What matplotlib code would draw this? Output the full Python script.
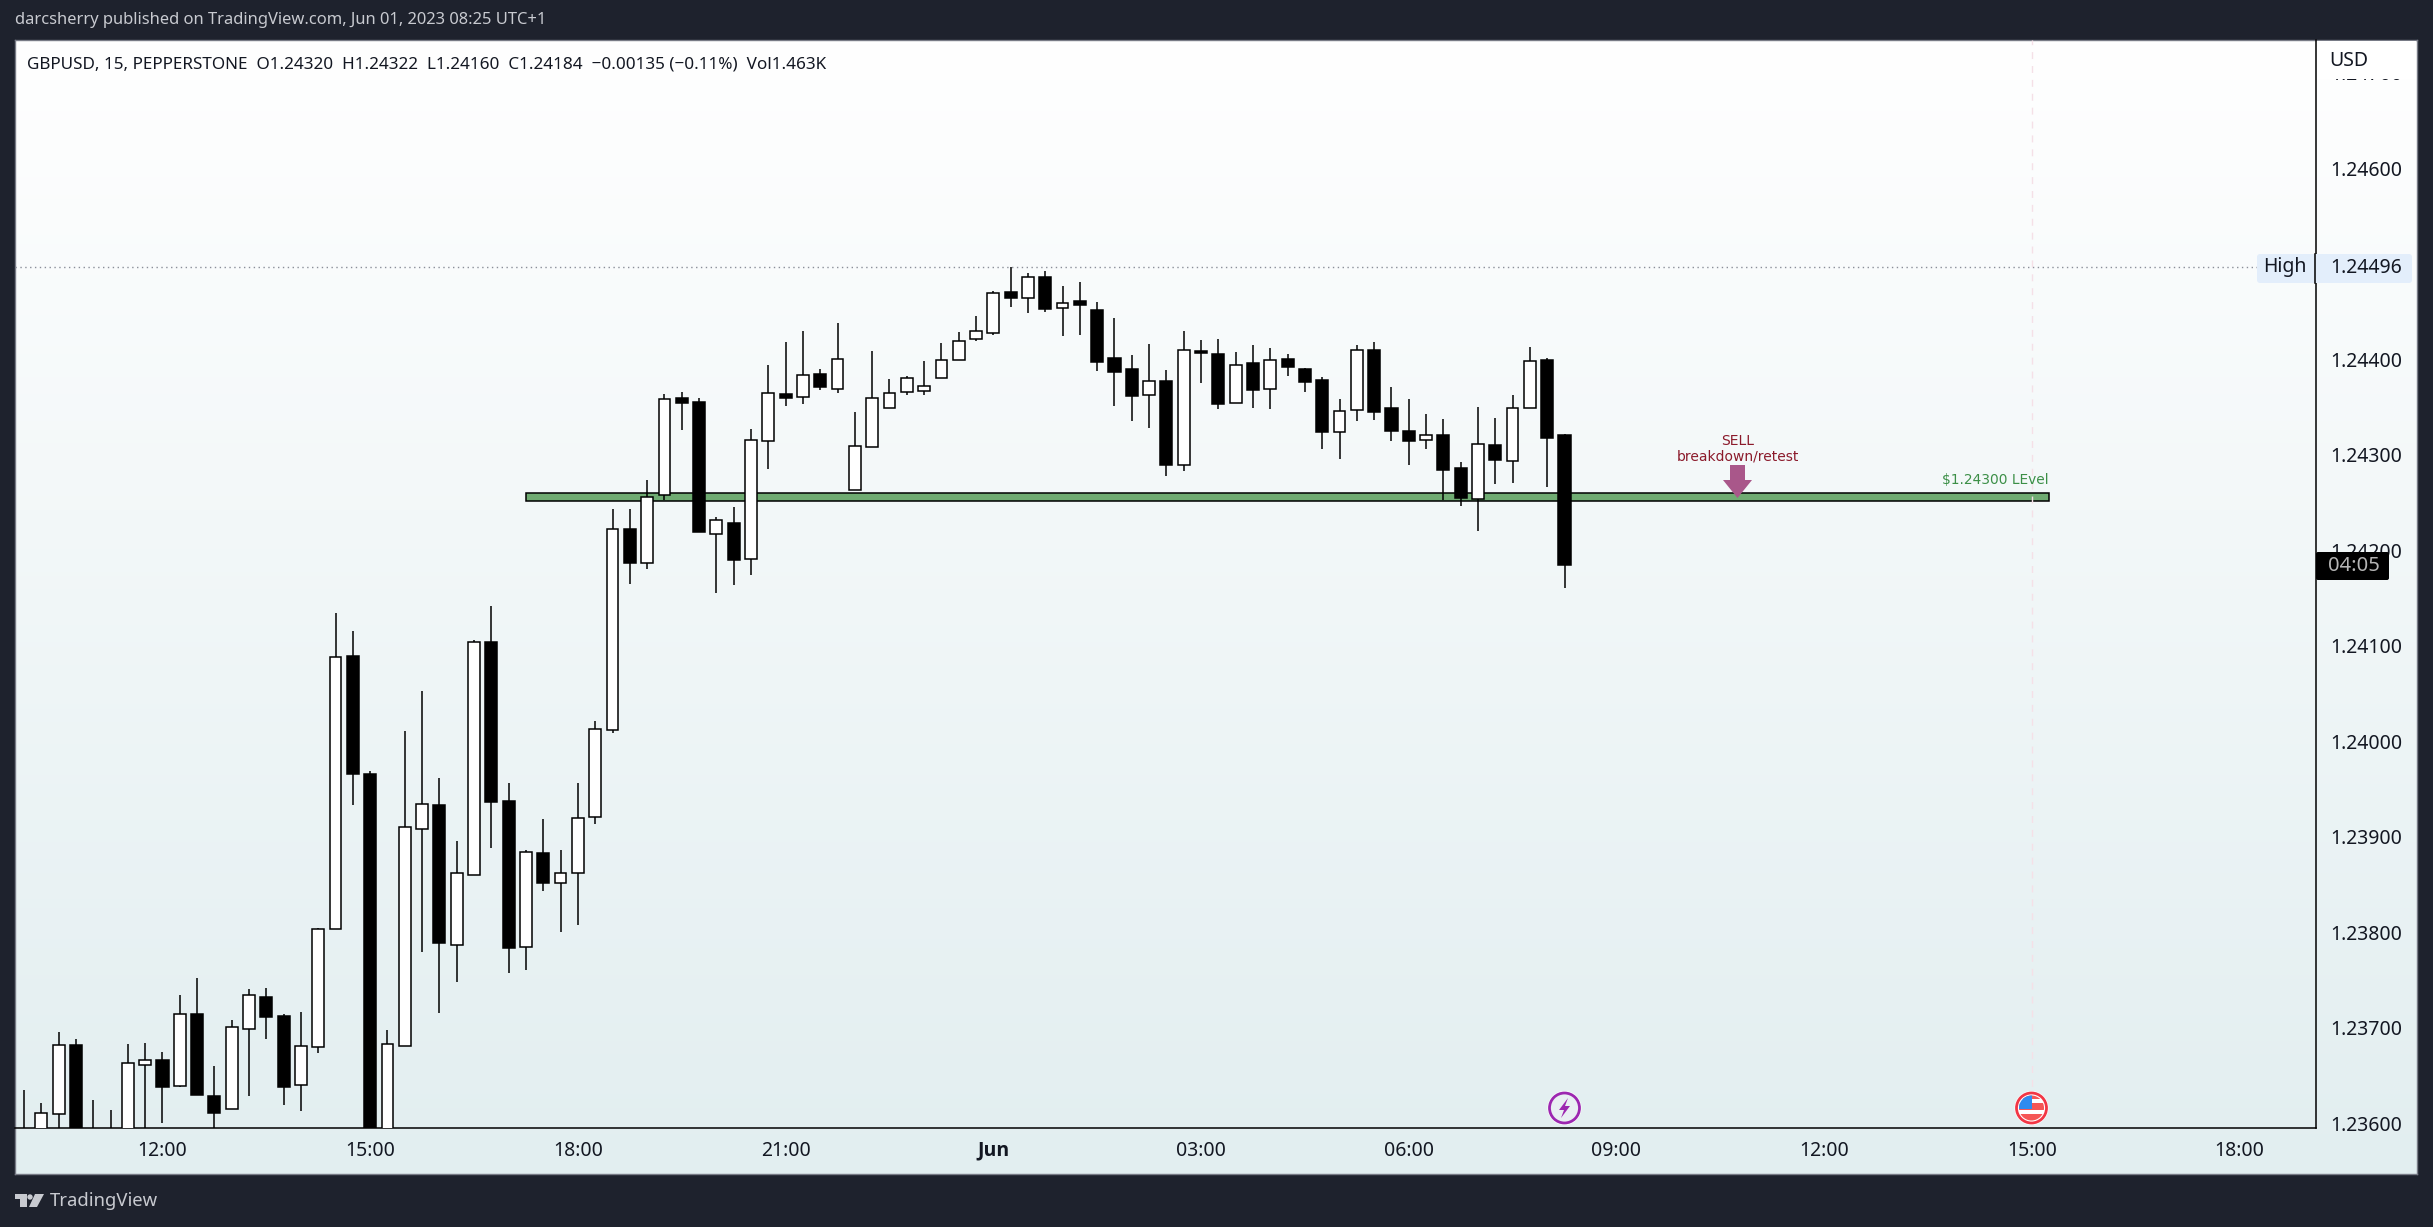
import matplotlib
matplotlib.use("Agg")
import matplotlib.pyplot as plt
from matplotlib.patches import Rectangle, Circle, Polygon, FancyBboxPatch
import numpy as np

# ===== DATA (GBPUSD 15m) =====
FIRST_BAR = -8  # bar 0 is the 12:00 candle

opens = [1.23570, 1.23570, 1.23610, 1.23682, 1.23570, 1.23575, 1.23580, 1.23661, 1.23666, 1.23639,
         1.23714, 1.23628, 1.23615, 1.23699, 1.23732, 1.23712, 1.23640, 1.23680, 1.23803, 1.24089,
         1.23966, 1.23570, 1.23681, 1.23908, 1.23933, 1.23787, 1.23860, 1.24104, 1.23937, 1.23784,
         1.23883, 1.23851, 1.23862, 1.23921, 1.24012, 1.24222, 1.24186, 1.24258, 1.24359, 1.24355,
         1.24217, 1.24228, 1.24191, 1.24314, 1.24363, 1.24360, 1.24384, 1.24369, 1.24263, 1.24308,
         1.24349, 1.24365, 1.24367, 1.24380, 1.24399, 1.24421, 1.24427, 1.24470, 1.24464, 1.24486,
         1.24453, 1.24461, 1.24451, 1.24401, 1.24390, 1.24362, 1.24377, 1.24289, 1.24408, 1.24405,
         1.24354, 1.24396, 1.24369, 1.24400, 1.24390, 1.24378, 1.24324, 1.24347, 1.24409, 1.24349,
         1.24325, 1.24315, 1.24320, 1.24286, 1.24253, 1.24310, 1.24293, 1.24349, 1.24399, 1.24320]
highs = [1.23635, 1.23621, 1.23695, 1.23688, 1.23624, 1.23614, 1.23683, 1.23684, 1.23675, 1.23734,
         1.23752, 1.23660, 1.23708, 1.23741, 1.23742, 1.23714, 1.23716, 1.23804, 1.24134, 1.24115,
         1.23969, 1.23698, 1.24011, 1.24052, 1.23961, 1.23895, 1.24106, 1.24141, 1.23956, 1.23886,
         1.23918, 1.23886, 1.23956, 1.24021, 1.24243, 1.24243, 1.24273, 1.24363, 1.24366, 1.24359,
         1.24235, 1.24245, 1.24327, 1.24394, 1.24418, 1.24429, 1.24390, 1.24438, 1.24345, 1.24408,
         1.24379, 1.24382, 1.24398, 1.24417, 1.24428, 1.24445, 1.24471, 1.24496, 1.24490, 1.24492,
         1.24476, 1.24481, 1.24460, 1.24443, 1.24404, 1.24416, 1.24389, 1.24429, 1.24420, 1.24421,
         1.24407, 1.24415, 1.24412, 1.24405, 1.24391, 1.24381, 1.24358, 1.24415, 1.24418, 1.24371,
         1.24358, 1.24342, 1.24337, 1.24292, 1.24350, 1.24338, 1.24362, 1.24413, 1.24401, 1.24322]
lows = [1.23550, 1.23560, 1.23570, 1.23540, 1.23540, 1.23550, 1.23570, 1.23560, 1.23600, 1.23638,
        1.23630, 1.23590, 1.23615, 1.23628, 1.23688, 1.23619, 1.23613, 1.23673, 1.23803, 1.23933,
        1.23550, 1.23560, 1.23681, 1.23779, 1.23715, 1.23748, 1.23860, 1.23888, 1.23757, 1.23760,
        1.23843, 1.23800, 1.23808, 1.23913, 1.24009, 1.24165, 1.24180, 1.24252, 1.24326, 1.24219,
        1.24155, 1.24163, 1.24174, 1.24285, 1.24351, 1.24353, 1.24368, 1.24364, 1.24263, 1.24308,
        1.24349, 1.24362, 1.24362, 1.24380, 1.24399, 1.24419, 1.24425, 1.24455, 1.24448, 1.24449,
        1.24424, 1.24425, 1.24388, 1.24351, 1.24335, 1.24328, 1.24278, 1.24283, 1.24375, 1.24348,
        1.24354, 1.24349, 1.24348, 1.24382, 1.24365, 1.24306, 1.24295, 1.24335, 1.24336, 1.24314,
        1.24289, 1.24306, 1.24252, 1.24246, 1.24220, 1.24269, 1.24270, 1.24349, 1.24266, 1.24160]
closes = [1.23575, 1.23611, 1.23682, 1.23560, 1.23560, 1.23565, 1.23663, 1.23666, 1.23638, 1.23714,
          1.23630, 1.23611, 1.23701, 1.23734, 1.23711, 1.23638, 1.23681, 1.23803, 1.24088, 1.23966,
          1.23560, 1.23683, 1.23910, 1.23934, 1.23789, 1.23862, 1.24104, 1.23936, 1.23783, 1.23884,
          1.23851, 1.23862, 1.23920, 1.24013, 1.24222, 1.24186, 1.24256, 1.24358, 1.24354, 1.24219,
          1.24232, 1.24190, 1.24315, 1.24364, 1.24359, 1.24383, 1.24371, 1.24400, 1.24309, 1.24359,
          1.24364, 1.24380, 1.24372, 1.24399, 1.24419, 1.24429, 1.24469, 1.24464, 1.24486, 1.24452,
          1.24459, 1.24457, 1.24397, 1.24386, 1.24361, 1.24377, 1.24289, 1.24409, 1.24406, 1.24353,
          1.24394, 1.24368, 1.24399, 1.24392, 1.24376, 1.24324, 1.24346, 1.24409, 1.24345, 1.24325,
          1.24314, 1.24321, 1.24284, 1.24255, 1.24311, 1.24294, 1.24349, 1.24398, 1.24317, 1.24184]

price_ticks = [1.23600, 1.23700, 1.23800, 1.23900, 1.24000, 1.24100, 1.24200, 1.24300, 1.24400,
               1.24600, 1.24700]
time_labels = ["12:00", "15:00", "18:00", "21:00", "Jun", "03:00", "06:00", "09:00", "12:00", "15:00", "18:00"]
time_ticks = [0, 12, 24, 36, 48, 60, 72, 84, 96, 108, 120]

HIGH_PRICE = 1.24496
ZONE_TOP = 1.24260
ZONE_BOTTOM = 1.24251
ZONE_START = 21
ZONE_END = 109
EVENT_BAR = 108

# ===== LAYOUT =====
W, H = 2433, 1227
BG_DARK = "#1E222D"
INK = "#131722"

plt.rcParams["font.family"] = ["Noto Sans", "DejaVu Sans"]


def px_box(x0, y0, x1, y1):
    """Pixel box (from top left) to figure fractions."""
    return [x0 / W, 1 - y1 / H, (x1 - x0) / W, (y1 - y0) / H]


fig = plt.figure(figsize=(W / 100, H / 100), dpi=100, facecolor=BG_DARK)

# panel with the vertical gradient
bg = fig.add_axes(px_box(15, 40, 2417, 1174), zorder=0)
top_col = np.array([255, 255, 255]) / 255
bot_col = np.array([226, 238, 240]) / 255
ramp = np.linspace(0, 1, 256)[:, None, None]
bg.imshow(top_col + (bot_col - top_col) * ramp, aspect="auto", extent=[0, 1, 0, 1])
bg.set_xticks([])
bg.set_yticks([])
for s in bg.spines.values():
    s.set_color("#787B86")
    s.set_linewidth(1.0)

# ===== CANDLES =====
ax = fig.add_axes(px_box(15, 40, 2315.6, 1128), zorder=1)
ax.patch.set_alpha(0)
ax.set_xlim(-8.52, 124.39)
ax.set_ylim(1.23595, 1.24734)

bars = np.arange(FIRST_BAR, FIRST_BAR + len(opens))
o = np.array(opens)
c = np.array(closes)
up = c >= o

ax.add_patch(Rectangle((ZONE_START, ZONE_BOTTOM), ZONE_END - ZONE_START, ZONE_TOP - ZONE_BOTTOM,
                       facecolor="#6FAB72", edgecolor="black", linewidth=1.1, zorder=1))
ax.axhline(HIGH_PRICE, color="#8A8E99", linewidth=1.0, linestyle=(0, (1, 2.5)), zorder=1)
ax.axvline(EVENT_BAR, color="#F5E0E7", linewidth=1.0, linestyle=(0, (5, 5)), zorder=1.5)

ax.vlines(bars, lows, highs, color="black", linewidth=1.1, zorder=2)
ax.bar(bars[up], (c - o)[up], bottom=o[up], width=0.68, facecolor="white",
       edgecolor="black", linewidth=1.1, zorder=3)
ax.bar(bars[~up], (c - o)[~up], bottom=o[~up], width=0.70, facecolor="black",
       edgecolor="black", linewidth=1.1, zorder=3)

ax.spines["left"].set_visible(False)
ax.spines["top"].set_visible(False)
ax.spines["right"].set_linewidth(1.1)
ax.spines["bottom"].set_linewidth(1.1)

ax.yaxis.tick_right()
ax.set_yticks(price_ticks, [f"{p:.5f}" for p in price_ticks])
ax.set_xticks(time_ticks, time_labels)
ax.tick_params(axis="y", length=0, pad=10.4, labelsize=14, labelcolor=INK)
ax.tick_params(axis="x", length=0, pad=9, labelsize=14, labelcolor=INK)
for lab in ax.get_xticklabels():
    if lab.get_text() == "Jun":
        lab.set_fontfamily("Open Sans")
        lab.set_fontweight("bold")

# ===== OVERLAY (pixel coordinates) =====
ov = fig.add_axes([0, 0, 1, 1], zorder=2)
ov.set_xlim(0, W)
ov.set_ylim(H, 0)
ov.axis("off")
ov.patch.set_alpha(0)

# header
ov.text(15, 20, "darcsherry published on TradingView.com, Jun 01, 2023 08:25 UTC+1",
        color="#C8CAD0", fontsize=11.9, va="center", ha="left")
ov.text(27, 64.5, "GBPUSD, 15, PEPPERSTONE  O1.24320  H1.24322  L1.24160  C1.24184  \u22120.00135 (\u22120.11%)  Vol1.463K",
        color=INK, fontsize=12.3, va="center", ha="left")

# top of the price scale hides the next label
ov.add_patch(Rectangle((2317, 41), 99, 38, facecolor="white", edgecolor="none"))
ov.text(2329, 60.5, "USD", color=INK, fontsize=14, va="center", ha="left")

# High label
ov.add_patch(FancyBboxPatch((2259, 256), 151, 25, boxstyle="round,pad=2,rounding_size=3",
                            facecolor="#E3EEFB", edgecolor="none"))
ov.plot([2315, 2315], [254, 283], color="black", lw=1.1)
ov.text(2285, 267, "High", color=INK, fontsize=14, va="center", ha="center")
ov.text(2330, 268, "1.24496", color=INK, fontsize=14, va="center", ha="left")

# countdown label
ov.add_patch(FancyBboxPatch((2316, 552), 73, 28, boxstyle="round,pad=0,rounding_size=2",
                            facecolor="black", edgecolor="none"))
ov.text(2354, 566, "04:05", color="#B5B5B5", fontsize=14.5, va="center", ha="center")

# SELL arrow and notes
ov.add_patch(Polygon([(1730, 465), (1745, 465), (1745, 480), (1752, 480), (1737.5, 498),
                      (1723, 480), (1730, 480)], closed=True, facecolor="#A9578A", edgecolor="none"))
ov.text(1738, 441, "SELL", color="#8B1A2B", fontsize=10, va="center", ha="center", family="DejaVu Sans")
ov.text(1738, 456, "breakdown/retest", color="#8B1A2B", fontsize=10, va="center", ha="center", family="DejaVu Sans")
ov.text(2049, 480, "$1.24300 LEvel", color="#3B8F47", fontsize=9.9, va="center", ha="right", family="DejaVu Sans")

# flash event icon
ov.add_patch(Circle((1564.5, 1108), 17, facecolor="white", edgecolor="none"))
ov.add_patch(Circle((1564.5, 1108), 15, facecolor="#E8EFF2", edgecolor="#9C27B0", linewidth=2))
ov.add_patch(Polygon([(1568, 1098), (1559, 1110), (1564, 1110), (1561, 1118), (1570, 1106), (1565, 1106)],
                     closed=True, facecolor="#9C27B0", edgecolor="none"))

# US flag event icon
ov.add_patch(Circle((2031.5, 1108), 17, facecolor="white", edgecolor="none"))
flag_clip = Circle((2031.5, 1108), 12.5, transform=ov.transData)
for y0, y1, col in [(1094, 1099, "#F55656"), (1099, 1103, "white"), (1103, 1110, "#F55656"),
                    (1110, 1114, "white"), (1114, 1122, "#F55656")]:
    ov.add_patch(Rectangle((2018, y0), 27, y1 - y0, facecolor=col, edgecolor="none", clip_path=flag_clip))
ov.add_patch(Rectangle((2018, 1094), 14, 15, facecolor="#2E8BEF", edgecolor="none", clip_path=flag_clip))
ov.add_patch(Circle((2031.5, 1108), 15, facecolor="none", edgecolor="#F23645", linewidth=2))

# TradingView logo
logo_col = "#C8CAD0"
ov.add_patch(Polygon([(15, 1194), (27, 1194), (27, 1207), (20, 1207), (20, 1199), (15, 1199)],
                     closed=True, facecolor=logo_col, edgecolor="none"))
ov.add_patch(Circle((30, 1197), 2.7, facecolor=logo_col, edgecolor="none"))
ov.add_patch(Polygon([(35, 1194), (44, 1194), (37, 1207), (29, 1207)],
                     closed=True, facecolor=logo_col, edgecolor="none"))
ov.text(50, 1201, "TradingView", color=logo_col, fontsize=13.3, va="center", ha="left")

fig.savefig("out.png", dpi=100, facecolor=BG_DARK)
